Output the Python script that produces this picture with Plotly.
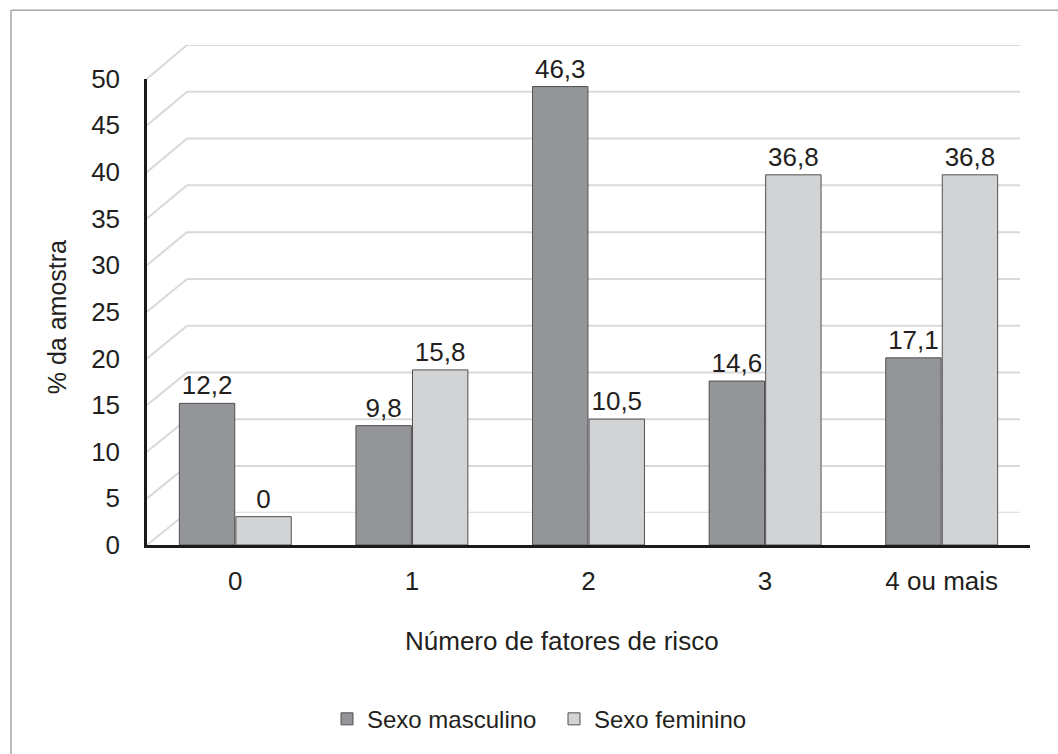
import plotly.graph_objects as go

# ---------------- data ----------------
categories = ["0", "1", "2", "3", "4 ou mais"]
male = [12.2, 9.8, 46.3, 14.6, 17.1]
female = [0, 15.8, 10.5, 36.8, 36.8]
series_names = ["Sexo masculino", "Sexo feminino"]
y_ticks = [0, 5, 10, 15, 20, 25, 30, 35, 40, 45, 50]
x_title = "Número de fatores de risco"
y_title = "% da amostra"

# ---------------- style / geometry ----------------
W, H = 1058, 754
ML, MR, MT, MB = 147, 28, 45, 204
PW, PH = W - ML - MR, H - MT - MB
FONT = "Liberation Sans, Arial, sans-serif"
TXT = "#231f20"
GRID = "#d9d9d9"
MALE_C = "#939598"
FEMALE_C = "#d1d3d4"
EDGE = "#505050"

# front plane (value axis with labels)
FRONT_DOM = [0.0, (550 - 79) / PH]
# back wall (gridlines)
BACK_XDOM = [(187 - ML) / PW, (1020 - ML) / PW]
BACK_YDOM = [(550 - 517.5) / PH, 1.0]
# bars axis (overlays the front axis, so it shares its domain)
BAR_RANGE = [-3.05, 47.15]
VMAX = max(y_ticks)


def fmt(v):
    return f"{v:g}".replace(".", ",")


def px_x(p):
    return (p - ML) / PW


def px_y(p):
    return (H - MB - p) / PH


fig = go.Figure()

# invisible trace so that the front x/y subplot exists
fig.add_trace(go.Scatter(x=categories, y=[0] * len(categories), xaxis="x", yaxis="y",
                         mode="markers", marker=dict(opacity=0), showlegend=False,
                         hoverinfo="skip"))

for vals, name, col in [(male, series_names[0], MALE_C), (female, series_names[1], FEMALE_C)]:
    fig.add_trace(go.Bar(
        x=categories, y=[v - BAR_RANGE[0] for v in vals], base=BAR_RANGE[0],
        name=name, xaxis="x", yaxis="y3",
        marker=dict(color=col, line=dict(color=EDGE, width=1)),
        text=[fmt(v) for v in vals], textposition="outside",
        textfont=dict(size=26, color=TXT, family=FONT),
        constraintext="none", cliponaxis=False, hoverinfo="skip",
    ))

# invisible trace to create the back-wall axes
fig.add_trace(go.Scatter(x=[0, 1], y=[0, VMAX], xaxis="x2", yaxis="y2", mode="lines",
                         line=dict(width=0), showlegend=False, hoverinfo="skip"))


def front_py(v):
    return FRONT_DOM[0] + v / VMAX * (FRONT_DOM[1] - FRONT_DOM[0])


def back_py(v):
    return BACK_YDOM[0] + v / VMAX * (BACK_YDOM[1] - BACK_YDOM[0])


shapes = []
for v in y_ticks:
    # back-wall gridline
    shapes.append(dict(type="line", xref="paper", yref="y2", x0=BACK_XDOM[0], x1=BACK_XDOM[1],
                       y0=v, y1=v, line=dict(color=GRID, width=2), layer="below"))
    # side-wall (depth) line
    shapes.append(dict(type="line", xref="paper", yref="paper", x0=0, y0=front_py(v),
                       x1=BACK_XDOM[0], y1=back_py(v), line=dict(color=GRID, width=2),
                       layer="below"))
# outer frame (only left and top edges fall inside the picture)
shapes.append(dict(type="line", xref="paper", yref="paper",
                   x0=px_x(11), x1=px_x(11), y0=px_y(770), y1=px_y(10),
                   line=dict(color="#a6a6a6", width=1.5), layer="below"))
shapes.append(dict(type="line", xref="paper", yref="paper",
                   x0=px_x(11), x1=px_x(1120), y0=px_y(10), y1=px_y(10),
                   line=dict(color="#a6a6a6", width=1.5), layer="below"))

fig.update_layout(
    width=W, height=H, autosize=False,
    margin=dict(l=ML, r=MR, t=MT, b=MB),
    paper_bgcolor="white", plot_bgcolor="rgba(0,0,0,0)",
    font=dict(family=FONT, size=24, color=TXT),
    barmode="group", bargap=0.36, bargroupgap=0.02,
    showlegend=True,
    legend=dict(orientation="h", x=px_x(327), xanchor="left",
                y=px_y(726), yanchor="middle",
                font=dict(size=24, color=TXT, family=FONT),
                entrywidth=182, entrywidthmode="pixels",
                bgcolor="rgba(0,0,0,0)", traceorder="normal"),
    xaxis=dict(domain=[0, 1], anchor="y", type="category",
               showline=True, linecolor="#1a1a1a", linewidth=2.5,
               ticks="", showgrid=False, zeroline=False,
               tickfont=dict(size=26, color=TXT), ticklabelstandoff=11),
    yaxis=dict(domain=FRONT_DOM, anchor="x", range=[0, VMAX],
               tickvals=y_ticks, ticktext=[str(t) for t in y_ticks],
               showline=True, linecolor="#1a1a1a", linewidth=2.5,
               ticks="", showgrid=False, zeroline=False,
               tickfont=dict(size=26, color=TXT), ticklabelstandoff=19),
    xaxis2=dict(domain=BACK_XDOM, anchor="y2", range=[0, 1], showgrid=False,
                zeroline=False, showticklabels=False, showline=False, ticks=""),
    yaxis2=dict(domain=BACK_YDOM, anchor="x2", range=[0, VMAX], showgrid=False,
                zeroline=False, showticklabels=False, showline=False, ticks=""),
    yaxis3=dict(anchor="x", overlaying="y", range=BAR_RANGE,
                visible=False, showgrid=False, zeroline=False),
    shapes=shapes,
    annotations=[
        dict(text=x_title, xref="paper", yref="paper", x=px_x(562),
             y=px_y(647), xanchor="center", yanchor="middle",
             showarrow=False, font=dict(size=26, color=TXT)),
        dict(text=y_title, xref="paper", yref="paper", x=px_x(57),
             y=px_y(320), xanchor="center", yanchor="middle",
             textangle=-90, showarrow=False, font=dict(size=25, color=TXT)),
    ],
)

page_fix = (
    "var de=document.documentElement, b=document.body;"
    "de.style.margin='0'; de.style.overflow='hidden'; de.style.height='754px';"
    "b.style.margin='0'; b.style.overflow='hidden'; b.style.height='754px';"
    "b.style.fontSize='0'; b.style.lineHeight='0';"
    "Array.prototype.forEach.call(b.children, function(c){"
    "  if(c.tagName==='DIV'){c.style.fontSize='0'; c.style.lineHeight='0'; c.style.height='754px';}"
    "});"
)
fig.write_html("out.html", config={"displayModeBar": False}, post_script=page_fix)
